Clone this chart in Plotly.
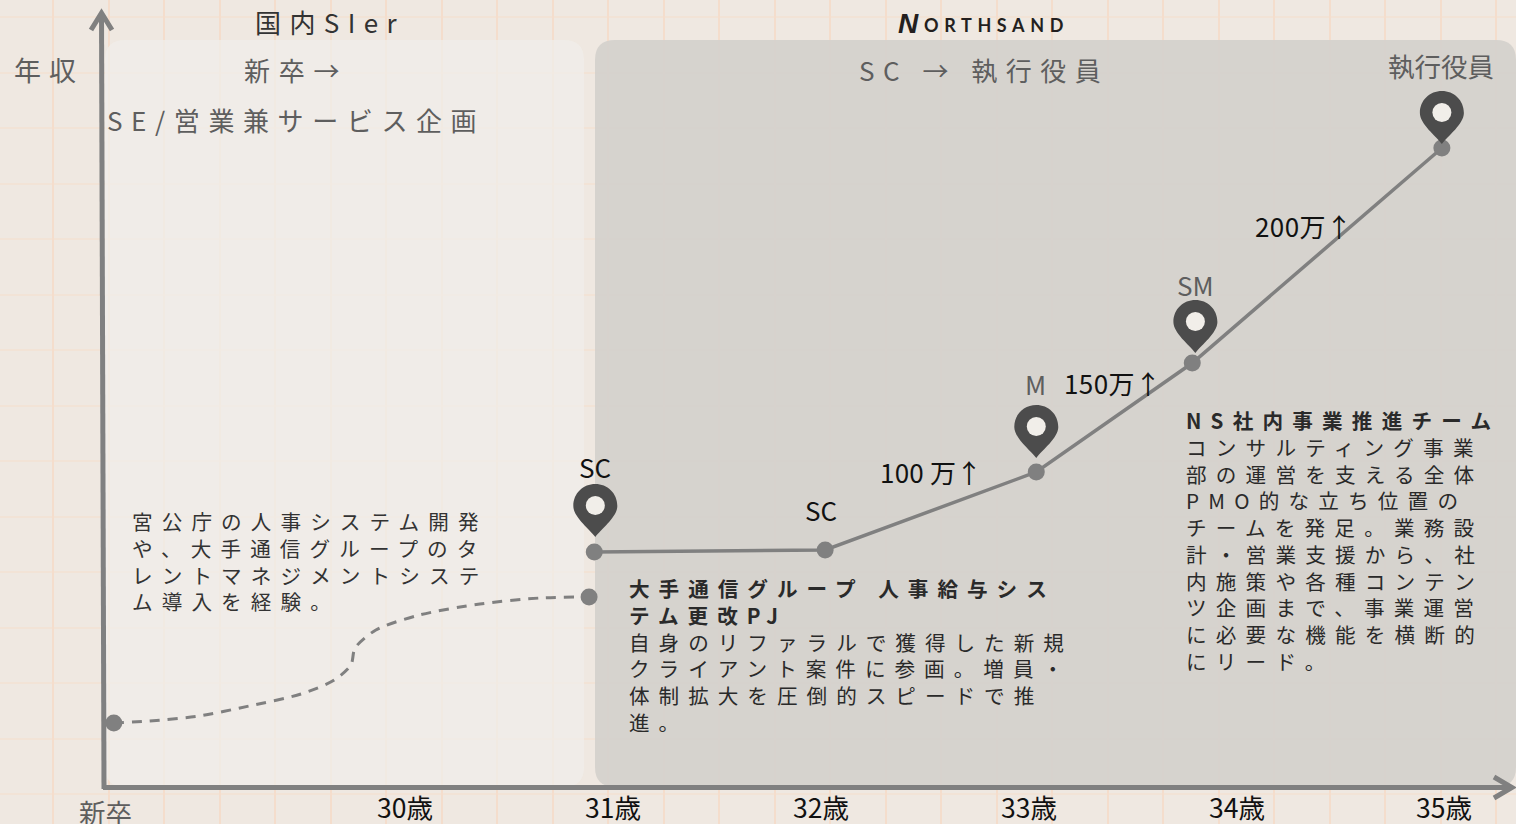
import json
import plotly.graph_objects as go

# ---- data ----
career_age = [30.91, 32.02, 33.035, 33.785, 34.985]
career_income = [235, 237, 315, 424, 639]
early_age = [28.60, 28.77, 29.01, 29.25, 29.50, 29.66, 29.74, 29.76, 29.86, 30.07, 30.36, 30.65, 30.885]
early_income = [64, 66, 71, 81, 93, 107, 122, 139, 157, 172, 183, 189, 190]
pin_age = [30.915, 33.035, 33.80, 34.985]
pin_income = [250, 329, 434, 643]
tick_age = [31 - 508 / 208, 30, 31, 32, 33, 34, 34.995]
tick_labels = ["新卒", "30歳", "31歳", "32歳", "33歳", "34歳", "35歳"]
left_note = ["宮公庁の人事システム開発", "や、大手通信グループのタ", "レントマネジメントシステ", "ム導入を経験。"]
mid_note = ["<b>大手通信グループ 人事給与シス</b>", "<b>テム更改PJ</b>", "自身のリファラルで獲得した新規",
            "クライアント案件に参画。増員・", "体制拡大を圧倒的スピードで推", "進。"]
right_note = ["<b>NS社内事業推進チーム</b>", "コンサルティング事業", "部の運営を支える全体", "PMO的な立ち位置の",
              "チームを発足。業務設", "計・営業支援から、社", "内施策や各種コンテン", "ツ企画まで、事業運営",
              "に必要な機能を横断的", "にリード。"]

W, H = 1516, 824
PX_PER_YEAR = 208.0
X0_PX, X0_AGE = 613.0, 31.0
BASE_PY = 787.0
GRID = 55.5
FONT = "Noto Sans CJK JP"
GRAY = "#808080"
DARK = "#1f1f1f"
MID = "#5e5e5e"


def ax(px):
    return X0_AGE + (px - X0_PX) / PX_PER_YEAR


def ay(py):
    return BASE_PY - py


fig = go.Figure()
fig.add_trace(go.Scatter(x=early_age, y=early_income, mode="lines", hoverinfo="skip",
                         line=dict(color=GRAY, width=3, dash="10px,8px", shape="spline", smoothing=0.8)))
fig.add_trace(go.Scatter(x=[early_age[0], early_age[-1]], y=[early_income[0], early_income[-1]], mode="markers",
                         hoverinfo="skip", marker=dict(color=GRAY, size=17)))
fig.add_trace(go.Scatter(x=career_age, y=career_income, mode="lines+markers", hoverinfo="skip",
                         line=dict(color=GRAY, width=3.5), marker=dict(color=GRAY, size=17)))

shapes = []


def rounded(x0, y0, x1, y1, r, color):
    d = (f"M{ax(x0+r)},{ay(y0)} L{ax(x1-r)},{ay(y0)} Q{ax(x1)},{ay(y0)} {ax(x1)},{ay(y0+r)} "
         f"L{ax(x1)},{ay(y1-r)} Q{ax(x1)},{ay(y1)} {ax(x1-r)},{ay(y1)} L{ax(x0+r)},{ay(y1)} "
         f"Q{ax(x0)},{ay(y1)} {ax(x0)},{ay(y1-r)} L{ax(x0)},{ay(y0+r)} Q{ax(x0)},{ay(y0)} {ax(x0+r)},{ay(y0)} Z")
    shapes.append(dict(type="path", path=d, fillcolor=color, line_width=0, layer="between"))


rounded(105, 40, 584, 787, 20, "rgba(240,238,233,0.75)")
rounded(595, 40, 1516, 787, 20, "rgba(212,209,204,0.93)")


def seg(pts, width=5):
    d = "M" + " L".join(f"{ax(x)},{ay(y)}" for x, y in pts)
    shapes.append(dict(type="path", path=d, line=dict(color=GRAY, width=width), layer="above"))


seg([(104, 789), (101.5, 14)])
seg([(91, 30), (101.5, 13), (112, 30)])
seg([(103, 787.5), (1511, 787.5)])
seg([(1494, 777), (1512, 787.5), (1494, 798)])

for a, v in zip(pin_age, pin_income):
    # pin tip is at (a, v); drawn with offsets in axis units
    dx = 1 / PX_PER_YEAR
    d = (f"M{a},{v} "
         f"C{a-6*dx},{v+8} {a-22*dx},{v+20} {a-22*dx},{v+31} "
         f"C{a-22*dx},{v+44} {a-12*dx},{v+53} {a},{v+53} "
         f"C{a+12*dx},{v+53} {a+22*dx},{v+44} {a+22*dx},{v+31} "
         f"C{a+22*dx},{v+20} {a+6*dx},{v+8} {a},{v} Z")
    shapes.append(dict(type="path", path=d, fillcolor="#4c4c4c", line_width=0, layer="above"))
    shapes.append(dict(type="circle", x0=a-9.5*dx, x1=a+9.5*dx, y0=v+22, y1=v+41,
                       fillcolor="#f1eee9", line_width=0, layer="above"))

annots = []
spacing = []


def label(px, py, text, size=26, color=DARK, sp=0.0, family=FONT, align="left"):
    annots.append(dict(xref="paper", yref="paper", x=px / W, y=1 - py / H, text=text, showarrow=False,
                       xanchor="left", yanchor="middle", align=align, borderpad=0,
                       font=dict(family=family, size=size, color=color)))
    spacing.append(sp)


label(254, 21, "国内SIer", 26, "#333333", 8.4)
label(243, 69, "新卒→", 26, MID, 8.8)
label(106, 120, "SE/営業兼サービス企画", 26, MID, 8.6)
label(13, 70, "年収", 27, MID, 8)
label(858, 69, "SC → 執行役員", 26, MID, 8.5)
label(1387, 65, "執行役員", 26.5, MID)
label(1176, 284, "SM", 26, MID)
label(1024, 383, "M", 26, MID)
label(578, 466, "SC", 26, "#111111")
label(804, 509, "SC", 26, "#111111")
label(879, 471, "100 万↑", 26, "#111111", 0.2)
label(1063, 382, "150万↑", 26, "#111111", 0.4)
label(1254, 225, "200万↑", 26, "#111111", 0.4)
label(131, 561, "<br>".join(left_note), 20.6, "#333333", 9.1)
label(628, 655, "<br>".join(mid_note), 20.6, "#2a2a2a", 9.0)
label(1185, 540, "<br>".join(right_note), 20.6, "#2a2a2a", 9.2)
label(897, 23, "<b><i>N</i></b>", 28, "#231f20", 0, "Liberation Sans")
label(923, 25, "<b>ORTHSAND</b>", 18, "#231f20", 5.6, "Lato")

for a, t in zip(tick_age, tick_labels):
    first = t == tick_labels[0]
    annots.append(dict(x=a, y=ay(811 if first else 806), text=t, showarrow=False, xanchor="center", yanchor="middle",
                       borderpad=0, font=dict(family=FONT, size=26.5, color=MID if first else "#111111")))
    spacing.append(0)

fig.update_layout(
    width=W, height=H, margin=dict(l=0, r=0, t=0, b=0), showlegend=False,
    paper_bgcolor="#efe8e1", plot_bgcolor="#efe8e1", shapes=shapes, annotations=annots,
    xaxis=dict(range=[ax(0), ax(W)], tick0=ax(53), dtick=GRID / PX_PER_YEAR, showgrid=True,
               gridcolor="rgba(245,218,196,0.75)", gridwidth=2, showticklabels=False, zeroline=False, ticks="", showline=False),
    yaxis=dict(range=[ay(H), ay(0)], tick0=ay(17), dtick=GRID, showgrid=True,
               gridcolor="rgba(245,222,204,0.5)", gridwidth=2, showticklabels=False, zeroline=False, ticks="", showline=False),
)

post = """
document.body.style.margin='0';document.documentElement.style.overflow='hidden';
var sp=%s;var gd=document.getElementById('{plot_id}');
function ls(){sp.forEach(function(s,i){var t=gd.querySelector('.annotation[data-index="'+i+'"] text.annotation-text');
if(t&&s)t.style.letterSpacing=s+'px';});}
ls();gd.on('plotly_afterplot',ls);setTimeout(ls,50);
""" % json.dumps(spacing)
fig.write_html("out.html", post_script=post, config={"displayModeBar": False})
